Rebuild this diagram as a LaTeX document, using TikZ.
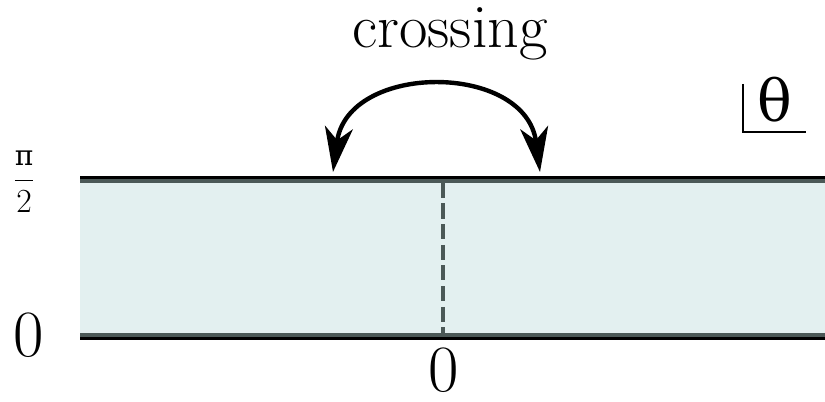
\documentclass[tikz,border=0pt]{standalone}
\usepackage{fontspec}
\newfontfamily\greekfont{DejaVu Serif}
\usetikzlibrary{arrows.meta}
\definecolor{bandfill}{HTML}{E3F0F0}
\definecolor{banddark}{HTML}{4B5957}
\begin{document}
\begin{tikzpicture}[font=\fontsize{44}{50}\selectfont,
  edge/.style={line width=0.083cm},
  zero/.style={anchor=base,inner sep=0pt,font=\fontsize{47}{52}\selectfont},
  swap/.style={line width=0.11cm,{Stealth[length=1.12cm,width=0.7cm,inset=0.32cm]}-{Stealth[length=1.12cm,width=0.7cm,inset=0.32cm]}}]
\def\XL{2.0}\def\XR{20.625}\def\XM{11.075}\def\YT{5.6}\def\YB{1.6}
\useasboundingbox (0,0) rectangle (20.625,10.05);
% banda
\fill[bandfill] (\XL,\YB) rectangle (\XR,\YT);
\draw[edge,banddark] (\XL,5.525) -- (\XR,5.525);
\draw[edge,banddark] (\XL,1.675) -- (\XR,1.675);
\draw[edge] (\XL,5.6075) -- (\XR,5.6075);
\draw[edge] (\XL,1.5925) -- (\XR,1.5925);
% corte
\coordinate (ctop) at (\XM,5.48);
\coordinate (cbot) at (\XM,1.71);
\draw[banddark,line width=0.115cm,dash pattern=on 10.7pt off 4pt] (ctop) -- (cbot);
% etiquetas
\node[anchor=base] (cross) at (11.25,8.85) {crossing};
\node[zero] (zeroy) at (0.725,1.125) {0};
\node[zero] (zerox) at (11.1,0.25) {0};
\node (half) at (0.6,5.51) {\fontsize{24}{28}\selectfont$\displaystyle\frac{\hbox{\greekfont\fontsize{20}{24}\selectfont π}}{\hbox{2}}$};
\node[anchor=base,font=\greekfont\fontsize{41}{46}\selectfont] (theta) at (19.36,7.0) {θ};
\draw[line width=0.9pt] (18.575,7.95) -- (18.575,6.75) -- (20.15,6.75);
% flecha
\coordinate (al) at (8.325,5.75);
\coordinate (ar) at (13.5,5.75);
\draw[swap] (al) .. controls (8.69,8.5) and (13.14,8.5) .. (ar);
\end{tikzpicture}
\end{document}
